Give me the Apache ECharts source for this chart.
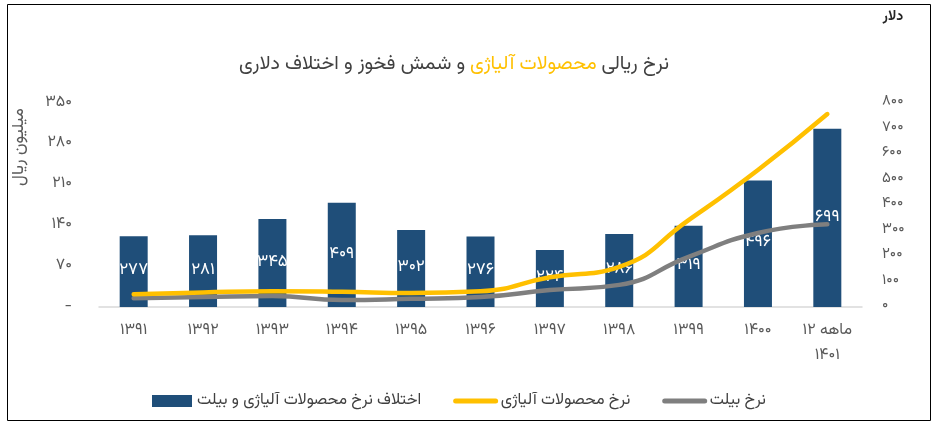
<!DOCTYPE html>
<html>
<head>
<meta charset="utf-8">
<script src="https://cdn.jsdelivr.net/npm/echarts@6/dist/echarts.min.js"></script>
<style>
html,body{margin:0;padding:0;background:#fff;}
#c{width:938px;height:429px;}
</style>
</head>
<body>
<div id="c"></div>
<script>
// ---- data ----
const categories = ['1391','1392','1393','1394','1395','1396','1397','1398','1399','1400','12 ماهه\n1401'];
const diffDollar = [277,281,345,409,302,276,224,286,319,496,699];     // bars, right axis (دلار)
const alloyRate  = [22,25,27,26,24,27,51,69,149,235,331];             // yellow line, left axis (میلیون ریال)
const billetRate = [15,17,19,12,14,17,29,38,86,127,142];              // gray line, left axis
const seriesNames = ['اختلاف نرخ محصولات آلیاژی و بیلت','نرخ محصولات آلیاژی','نرخ بیلت'];
const leftTicks = {min:0, max:350, interval:70};
const rightTicks = {min:0, max:800, interval:100};

const fa = s => String(s).replace(/\d/g, d => '۰۱۲۳۴۵۶۷۸۹'[d]);
const FONT = '"Vazirmatn","Noto Sans Arabic","DejaVu Sans",sans-serif';

const chart = echarts.init(document.getElementById('c'));
chart.setOption({
  backgroundColor:'#fff',
  animation:false,
  textStyle:{fontFamily:FONT},
  title:{
    text:'{a|و شمش فخوز و اختلاف دلاری} {b|محصولات آلیاژی} {a|نرخ ریالی}',
    left:234, top:51,
    textStyle:{
      fontWeight:'normal',
      rich:{
        a:{fontSize:19.5,color:'#404040',fontFamily:FONT,fontWeight:'normal'},
        b:{fontSize:19.5,color:'#FFC000',fontFamily:FONT,fontWeight:'normal'}
      }
    }
  },
  graphic:[
    {type:'rect',shape:{x:7.5,y:4.5,width:923,height:416},style:{fill:'none',stroke:'#000',lineWidth:1},silent:true},
    {type:'text',x:20,y:147,rotation:Math.PI/2,style:{text:'میلیون ریال',font:'17px '+FONT,fill:'#595959',textAlign:'center',textVerticalAlign:'middle'}},
    {type:'text',x:893,y:18,style:{text:'دلار',font:'bold 14px '+FONT,fill:'#262626',textAlign:'center',textVerticalAlign:'middle'}}
  ],
  legend:{
    left:147, top:388,
    itemWidth:40, itemHeight:12, itemGap:32,
    textStyle:{fontSize:16,color:'#404040',fontFamily:FONT},
    data:[
      {name:seriesNames[0],icon:'rect'},
      {name:seriesNames[1],itemStyle:{opacity:0,borderWidth:0},lineStyle:{width:5,cap:'round'}},
      {name:seriesNames[2],itemStyle:{opacity:0,borderWidth:0},lineStyle:{width:5,cap:'round'}}
    ]
  },
  grid:{left:99,right:76,top:103,bottom:122,containLabel:false},
  xAxis:{
    type:'category',
    data:categories,
    axisLine:{lineStyle:{color:'#D9D9D9',width:1.5}},
    axisTick:{show:false},
    axisLabel:{color:'#595959',fontSize:16,margin:12,lineHeight:25,formatter:v=>fa(v),fontFamily:FONT}
  },
  yAxis:[
    {
      type:'value',position:'left',
      min:leftTicks.min,max:leftTicks.max,interval:leftTicks.interval,
      axisLine:{show:false},axisTick:{show:false},splitLine:{show:false},
      axisLabel:{color:'#595959',fontSize:16,margin:27,formatter:v=>v===0?'-':fa(v),fontFamily:FONT}
    },
    {
      type:'value',position:'right',
      min:rightTicks.min,max:rightTicks.max,interval:rightTicks.interval,
      axisLine:{show:false},axisTick:{show:false},splitLine:{show:false},
      axisLabel:{color:'#595959',fontSize:15,margin:20,formatter:v=>fa(v),fontFamily:FONT}
    }
  ],
  series:[
    {
      name:seriesNames[0],type:'bar',yAxisIndex:1,data:diffDollar,
      barWidth:28,
      itemStyle:{color:'#1F4E79'},
      label:{show:true,position:'inside',color:'#fff',fontSize:17,formatter:p=>fa(p.value),fontFamily:FONT},
      z:1
    },
    {
      name:seriesNames[1],type:'line',yAxisIndex:0,data:alloyRate,
      smooth:true,symbol:'none',
      lineStyle:{color:'#FFC000',width:4.5,cap:'round'},
      itemStyle:{color:'#FFC000'},
      z:3
    },
    {
      name:seriesNames[2],type:'line',yAxisIndex:0,data:billetRate,
      smooth:true,symbol:'none',
      lineStyle:{color:'#7F7F7F',width:4.5,cap:'round'},
      itemStyle:{color:'#7F7F7F'},
      z:2
    }
  ]
});
</script>
</body>
</html>
